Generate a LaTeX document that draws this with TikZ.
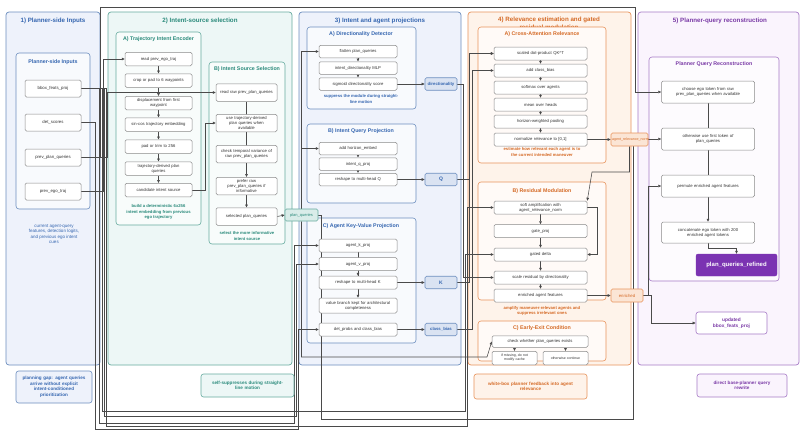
\documentclass[tikz,border=0pt]{standalone}
\usepackage{fontspec}
\setmainfont{Liberation Sans}
\usetikzlibrary{arrows.meta,calc}
\definecolor{bluB}{HTML}{6C8EBF}
\definecolor{bluT}{HTML}{3566B0}
\definecolor{bluF}{HTML}{EEF2FB}
\definecolor{tealB}{HTML}{67AB9F}
\definecolor{tealT}{HTML}{2A8A7B}
\definecolor{tealF}{HTML}{EDF7F6}
\definecolor{orB}{HTML}{E8935C}
\definecolor{orT}{HTML}{D56A26}
\definecolor{orF}{HTML}{FEF3EA}
\definecolor{puB}{HTML}{A77BC7}
\definecolor{puT}{HTML}{7A3AA6}
\definecolor{puF}{HTML}{FAF4FD}
\definecolor{puD}{HTML}{7B33B2}
\definecolor{lineC}{HTML}{4A4A4A}
\definecolor{boxB}{HTML}{8A8A8A}
\pgfdeclarelayer{bg}
\pgfdeclarelayer{edges}
\pgfsetlayers{bg,edges,main}
\hyphenpenalty=10000
\exhyphenpenalty=0
\begin{document}
\begin{tikzpicture}[x=1pt,y=-1pt,
  conn/.style={draw=lineC, line width=0.55pt, -{Triangle[length=3pt,width=2.6pt]}},
  panel/.style={draw=#1B, fill=#1F, rounded corners=3pt, line width=0.7pt},
  subbox/.style={draw=#1B, fill=#1F!40!white, rounded corners=3pt, line width=0.6pt},
  ptitle/.style={font=\bfseries\fontsize{6.2}{7.6}\selectfont, text=#1T, align=center},
  stitle/.style={font=\bfseries\fontsize{5.3}{6}\selectfont, text=#1T},
  capt/.style={font=\bfseries\fontsize{4.2}{5.2}\selectfont, text=#1T, align=center},
  proc/.style={draw=boxB, fill=white, rounded corners=1.5pt, line width=0.5pt, font=\fontsize{4.2}{4.9}\selectfont, text=black!80, align=center, inner sep=0.5pt},
  sz/.style 2 args={minimum width=#1pt, minimum height=#2pt, text width=#1pt-2pt},
  outn/.style={draw=#1B, fill=#1F!85!#1B, rounded corners=1.5pt, line width=0.6pt, font=\bfseries\fontsize{4.3}{5}\selectfont, text=#1T, align=center, inner sep=0.5pt},
  note/.style={draw=#1B, fill=#1F, rounded corners=2.5pt, line width=0.6pt, font=\bfseries\fontsize{4.6}{5.6}\selectfont, text=#1T, align=center, inner sep=0.5pt},
]
\useasboundingbox (0,0) rectangle (803,432);
\begin{pgfonlayer}{bg}
\fill[white] (0,0) rectangle (803,432);
\draw[panel=blu] (6,12) rectangle (100,365);
\draw[panel=teal] (108,12) rectangle (292,365);
\draw[panel=blu] (299,12) rectangle (461,365);
\draw[panel=or] (468,12) rectangle (631,365);
\draw[panel=pu] (638,12) rectangle (799,365);
\node[ptitle=blu] (t1) at (53,21) {1) Planner-side Inputs};
\node[ptitle=teal] (t2) at (200,21) {2) Intent-source selection};
\node[ptitle=blu] (t3) at (380,21) {3) Intent and agent projections};
\node[ptitle=or] (t4) at (549,23) {4) Relevance estimation and gated\\residual modulation};
\node[ptitle=pu] (t5) at (720,21) {5) Planner-query reconstruction};
\draw[subbox=blu] (16,53) rectangle (90,209);
\draw[subbox=teal] (116,32) rectangle (201,225);
\draw[subbox=teal] (209,62) rectangle (285,244);
\draw[subbox=blu] (307,27) rectangle (416,109);
\draw[subbox=blu] (307,124) rectangle (416,203);
\draw[subbox=blu] (307,218) rectangle (416,343);
\draw[subbox=or] (478,27) rectangle (606,163);
\draw[subbox=or] (478,182) rectangle (606,300);
\draw[subbox=or] (478,321) rectangle (606,361);
\draw[subbox=pu] (649,57) rectangle (779,281);
\node[stitle=blu] (s1) at (53,62) {Planner-side Inputs};
\node[stitle=teal] (s2a) at (158.5,39) {A) Trajectory Intent Encoder};
\node[stitle=teal] (s2b) at (247,69) {B) Intent Source Selection};
\node[stitle=blu] (s3a) at (361,34) {A) Directionality Detector};
\node[stitle=blu] (s3b) at (361,131) {B) Intent Query Projection};
\node[stitle=blu] (s3c) at (361,226) {C) Agent Key-Value Projection};
\node[stitle=or] (s4a) at (542,34) {A) Cross-Attention Relevance};
\node[stitle=or] (s4b) at (542,191) {B) Residual Modulation};
\node[stitle=or] (s4c) at (542,328) {C) Early-Exit Condition};
\node[stitle=pu] (s5) at (714,64) {Planner Query Reconstruction};
\node[font=\fontsize{4.5}{5.6}\selectfont, text=bluT, align=center] (c1) at (54,234) {current agent-query\\features, detection logits,\\and previous ego intent\\cues};
\node[capt=teal] (c2a) at (158.5,212) {build a deterministic 6x256\\intent embedding from previous\\ego trajectory};
\node[capt=teal] (c2b) at (247,236) {select the more informative\\intent source};
\node[capt=blu] (c3a) at (361,99) {suppress the module during straight-\\line motion};
\node[capt=or] (c4a) at (542,152) {estimate how relevant each agent is to\\the current intended maneuver};
\node[capt=or] (c4b) at (542,311) {amplify maneuver-relevant agents and\\suppress irrelevant ones};
\end{pgfonlayer}
% notes
\node[note=blu, sz={76}{32}] (n1) at (54,387) {planning gap: agent queries\\arrive without explicit\\intent-conditioned\\prioritization};
\node[note=teal, sz={93}{23}] (n2) at (247.5,385.5) {self-suppresses during straight-\\line motion};
\node[note=or, sz={113}{25}] (n4) at (530.5,386.5) {white-box planner feedback into agent\\relevance};
\node[note=pu, sz={90}{23}] (n5) at (742,385.5) {direct base-planner query\\rewrite};
% panel 1
\node[proc, sz={56}{17}, font=\fontsize{4.3}{5}\selectfont] (in_bbox) at (53,88.5) {bbox\_feats\_proj};
\node[proc, sz={56}{17}, font=\fontsize{4.3}{5}\selectfont] (in_det) at (53,122.5) {det\_scores};
\node[proc, sz={56}{17}, font=\fontsize{4.3}{5}\selectfont] (in_ppq) at (53,157.5) {prev\_plan\_queries};
\node[proc, sz={56}{17}, font=\fontsize{4.3}{5}\selectfont] (in_ego) at (53,191.5) {prev\_ego\_traj};
% panel 2A
\node[proc, sz={67}{13.5}] (a1) at (158.5,59) {read prev\_ego\_traj};
\node[proc, sz={67}{13.5}] (a2) at (158.5,80.5) {crop or pad to 6 waypoints};
\node[proc, sz={67}{13.5}] (a3) at (158.5,103) {displacement from first\\waypoint};
\node[proc, sz={67}{13.5}] (a4) at (158.5,124.5) {sin-cos trajectory embedding};
\node[proc, sz={67}{13.5}] (a5) at (158.5,146.5) {pad or trim to 256};
\node[proc, sz={67}{13.5}] (a6) at (158.5,168.5) {trajectory-derived plan\\queries};
\node[proc, sz={67}{13.5}] (a7) at (158.5,190) {candidate intent source};
% panel 2B
\node[proc, sz={61}{17.5}] (b1) at (246.5,92.5) {read raw prev\_plan\_queries};
\node[proc, sz={61}{17.5}] (b2) at (246.5,123) {use trajectory-derived\\plan queries when\\available};
\node[proc, sz={61}{17.5}] (b3) at (246.5,154) {check temporal variance of\\raw prev\_plan\_queries};
\node[proc, sz={61}{17.5}] (b4) at (246.5,186) {prefer raw\\prev\_plan\_queries if\\informative};
\node[proc, sz={61}{17.5}] (b5) at (246.5,216.5) {selected plan\_queries};
\node[outn=teal, sz={33}{12}, font=\fontsize{4}{5}\selectfont] (pq) at (301.5,215) {plan\_queries};
% panel 3
\node[proc, sz={78}{12.5}] (d1) at (358,51.5) {flatten plan\_queries};
\node[proc, sz={78}{12.5}] (d2) at (358,68) {intent\_directionality MLP};
\node[proc, sz={78}{12.5}] (d3) at (358,84) {sigmoid directionality score};
\node[proc, sz={78}{12.5}] (q1) at (358,148.5) {add horizon\_embed};
\node[proc, sz={78}{12.5}] (q2) at (358,164) {intent\_q\_proj};
\node[proc, sz={78}{12.5}] (q3) at (358,179.5) {reshape to multi-head Q};
\node[proc, sz={78}{13}] (k1) at (358,245.5) {agent\_k\_proj};
\node[proc, sz={78}{13}] (k2) at (358,264) {agent\_v\_proj};
\node[proc, sz={78}{13}] (k3) at (358,282.5) {reshape to multi-head K};
\node[proc, sz={78}{15}] (k4) at (358,305.5) {value branch kept for architectural\\completeness};
\node[proc, sz={78}{13}] (k5) at (358,329.5) {det\_probs and class\_bias};
\node[outn=blu, sz={32}{12.5}] (o_dir) at (441,84) {directionality};
\node[outn=blu, sz={32}{12.5}, font=\bfseries\fontsize{5}{6}\selectfont] (o_q) at (441,179.5) {Q};
\node[outn=blu, sz={32}{12.5}, font=\bfseries\fontsize{5}{6}\selectfont] (o_k) at (441,282.5) {K};
\node[outn=blu, sz={32}{12.5}] (o_cb) at (441,329.5) {class\_bias};
% panel 4
\node[proc, sz={93}{13}] (r1) at (540.5,53.5) {scaled dot-product QK\textasciicircum T};
\node[proc, sz={93}{13}] (r2) at (540.5,70.5) {add class\_bias};
\node[proc, sz={93}{13}] (r3) at (540.5,87.5) {softmax over agents};
\node[proc, sz={93}{13}] (r4) at (540.5,104.5) {mean over heads};
\node[proc, sz={93}{13}] (r5) at (540.5,121.5) {horizon-weighted pooling};
\node[proc, sz={93}{13}] (r6) at (540.5,139.5) {normalize relevance to [0,1]};
\node[outn=or, sz={37}{13}, font=\fontsize{3.6}{4.5}\selectfont] (o_rel) at (629.5,139.5) {agent\_relevance\_norm};
\node[proc, sz={93}{13}] (m1) at (540.5,207.5) {soft amplification with\\agent\_relevance\_norm};
\node[proc, sz={93}{13}] (m2) at (540.5,231) {gate\_proj};
\node[proc, sz={93}{13}] (m3) at (540.5,254.5) {gated delta};
\node[proc, sz={93}{13}] (m4) at (540.5,277.5) {scale residual by directionality};
\node[proc, sz={93}{13}] (m5) at (540.5,295.5) {enriched agent features};
\node[outn=or, sz={32}{13}, font=\fontsize{4.3}{5}\selectfont] (o_enr) at (627,295.5) {enriched};
\node[proc, sz={96}{11.5}] (e1) at (540,341.5) {check whether plan\_queries exists};
\node[proc, sz={45}{13.5}, font=\fontsize{3.5}{4}\selectfont] (e2) at (514.5,358) {if missing, do not\\modify cache};
\node[proc, sz={45}{13.5}, font=\fontsize{3.5}{4}\selectfont] (e3) at (565.5,358) {otherwise continue};
% panel 5
\node[proc, sz={93}{22}] (p1) at (708,92) {choose ego token from raw\\prev\_plan\_queries when available};
\node[proc, sz={93}{22}] (p2) at (708,139) {otherwise use first token of\\plan\_queries};
\node[proc, sz={93}{22}] (p3) at (708,186) {permute enriched agent features};
\node[proc, sz={93}{21}] (p4) at (708,232.5) {concatenate ego token with 200\\enriched agent tokens};
\node[draw=puD, fill=puD, rounded corners=2pt, sz={81}{22}, text=white, font=\bfseries\fontsize{6}{7}\selectfont, align=center, inner sep=0.5pt] (p5) at (736.5,265) {plan\_queries\_refined};
\node[note=pu, fill=white, sz={71}{22}, font=\bfseries\fontsize{4.8}{5.8}\selectfont] (p6) at (731.5,323) {updated\\bbox\_feats\_proj};
% connectors
\begin{pgfonlayer}{edges}
\draw[conn] (in_bbox.east) -| (99,423) -| (294,245.5) -- (k1.west);
\draw[conn] (in_bbox.east) -| (104.5,416) -| (296,264) -- (k2.west);
\draw[conn] (in_bbox.east) -| (102,411) -| (465,254.5) -- (m3.west);
\draw[conn] (in_bbox.east) -| (106,426) -| (467,207.5) -- (m1.west);
\draw[conn] (in_ppq.east) -| (107,92.5) -- (b1.west);
\draw[conn] (in_ppq.east) -| (100.5,7) -| (635,92) -- (p1.west);
\draw[conn] (in_ego.east) -| (103.5,59) -- (a1.west);
\draw[conn] (in_det.east) -| (95,429) -| (298,329.5) -- (k5.west);
\foreach \u/\v in {a1/a2,a2/a3,a3/a4,a4/a5,a5/a6,a6/a7,b4/b5,d1/d2,d2/d3,q1/q2,q2/q3,r1/r2,r2/r3,r3/r4,r4/r5,r5/r6,m1/m2,m2/m3,m3/m4,m4/m5}
  \draw[conn] (\u.south) -- (\v.north);
\draw[conn] (a7.east) -| (205,123) -- (b2.west);
\draw[conn] (b1.south) -- (b4.north);
\draw[conn] (b5.east) -- (pq.west);
\draw[conn] (pq.north) |- (d1.west);
\draw[conn] (pq.north) |- (q1.west);
\draw[conn] (pq.south) |- (487,357) -- (e1.west);
\draw[conn] (pq.east) -| (321,419) -| (633,139) -- (p2.west);
\draw[conn] (d3.east) -- (o_dir.west);
\draw[conn] (q3.east) -- (o_q.west);
\draw[conn] (k1.south) -- (k3.north);
\draw[conn] (k2.south) -- (k4.north);
\draw[conn] (k3.east) -- (o_k.west);
\draw[conn] (k5.east) -- (o_cb.west);
\draw[conn] (o_dir.east) -| (463,277.5) -- (m4.west);
\draw[conn] (o_q.east) -| (469,53.5) -- (r1.west);
\draw[conn] (o_k.east) -| (469,53.5) -- (r1.west);
\draw[conn] (o_cb.east) -| (472,70.5) -- (r2.west);
\draw[conn] (r6.east) -- (o_rel.west);
\draw[conn] (o_rel.south) -- (629.5,172) -- (592,172) -- (m1.north east);
\draw[conn] (m1.east) -- (597,207.5) |- (m3.east);
\draw[conn] (m5.east) -- (o_enr.west);
\draw[conn] (o_enr.east) -| (648,186) -- (p3.west);
\draw[conn] (o_enr.east) -| (651,323) -- (p6.west);
\draw[conn] (e1.south -| e2.north) -- (e2.north);
\draw[conn] (e1.south -| e3.north) -- (e3.north);
\draw[conn] (p1.south) -- (p4.north);
\draw[conn] (p4.south) -- ++(0,5.5) -| (p5.north);
\end{pgfonlayer}
\end{tikzpicture}
\end{document}
